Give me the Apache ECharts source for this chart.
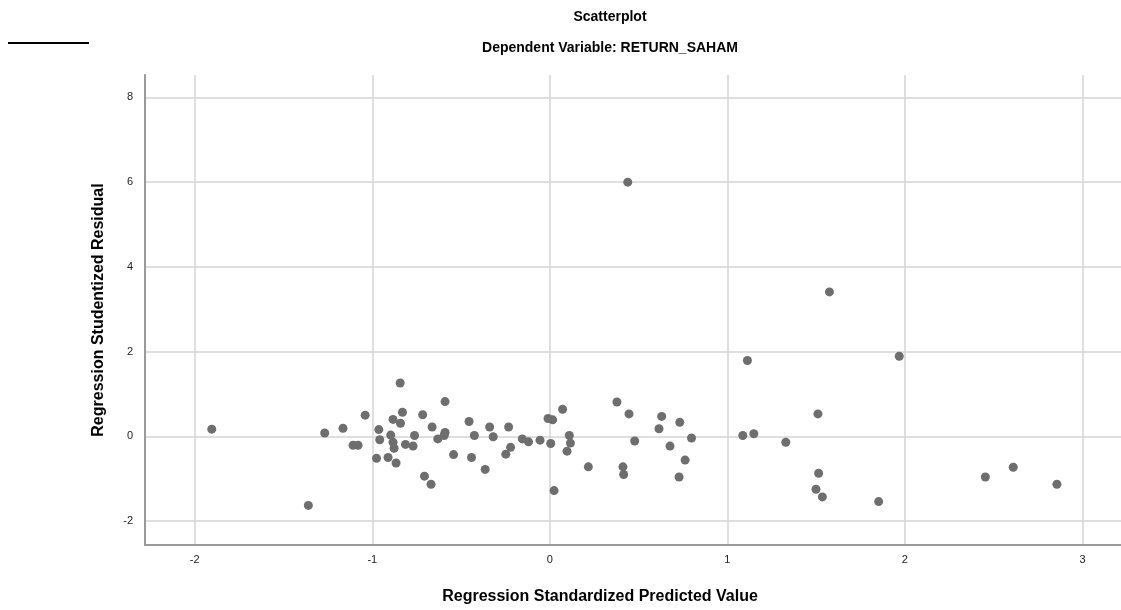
<!DOCTYPE html>
<html>
<head>
<meta charset="utf-8">
<title>Scatterplot</title>
<script src="https://cdn.jsdelivr.net/npm/echarts@6/dist/echarts.min.js"></script>
<style>
  html, body { margin: 0; padding: 0; background: #fff; }
  #chart { width: 1121px; height: 610px; }
</style>
</head>
<body>
<div id="chart"></div>
<script>
// 标准化预测值 (x) 与 学生化残差 (y)
var predicted = [
  -1.904, -1.36, -1.268, -1.165, -1.108, -1.080, -1.04, -0.976, -0.963, -0.958,
  -0.911, -0.896, -0.883, -0.883, -0.877, -0.866, -0.843, -0.830, -0.841, -0.813,
  -0.770, -0.762, -0.716, -0.706, -0.669, -0.663, -0.631, -0.595, -0.59, -0.59,
  -0.542, -0.455, -0.441, -0.425, -0.364, -0.339, -0.319, -0.248, -0.221, -0.232,
  -0.155, -0.12, -0.055, -0.01, 0.016, 0.005, 0.024, 0.072, 0.11, 0.116,
  0.097, 0.217, 0.378, 0.412, 0.416, 0.439, 0.446, 0.478, 0.615, 0.63,
  0.677, 0.728, 0.732, 0.762, 0.798, 1.087, 1.113, 1.149, 1.329, 1.51,
  1.514, 1.499, 1.535, 1.575, 1.852, 1.968, 2.453, 2.61, 2.856
];
var residual = [
  0.17, -1.63, 0.08, 0.19, -0.21, -0.21, 0.50, -0.52, 0.16, -0.08,
  -0.50, 0.03, 0.40, -0.14, -0.28, -0.63, 1.26, 0.57, 0.31, -0.19,
  -0.23, 0.02, 0.51, -0.94, -1.13, 0.22, -0.06, 0.02, 0.09, 0.82,
  -0.43, 0.35, -0.50, 0.02, -0.78, 0.22, -0.01, -0.42, -0.26, 0.22,
  -0.06, -0.13, -0.09, 0.42, 0.39, -0.17, -1.28, 0.64, 0.02, -0.16,
  -0.35, -0.72, 0.81, -0.72, -0.90, 6.0, 0.53, -0.11, 0.18, 0.47,
  -0.23, -0.96, 0.33, -0.56, -0.04, 0.02, 1.79, 0.06, -0.14, 0.53,
  -0.87, -1.25, -1.43, 3.41, -1.54, 1.89, -0.96, -0.73, -1.13
];
var xTicks = [-2, -1, 0, 1, 2, 3];
var yTicks = [-2, 0, 2, 4, 6, 8];

var points = predicted.map(function (v, i) { return [v, residual[i]]; });

var chart = echarts.init(document.getElementById('chart'));
chart.setOption({
  backgroundColor: '#ffffff',
  animation: false,
  textStyle: { fontFamily: 'Liberation Sans, Arial, sans-serif' },
  title: [
    {
      text: 'Scatterplot',
      left: 605, top: 5, textAlign: 'center',
      textStyle: { fontSize: 14, fontWeight: 'bold', color: '#000' }
    },
    {
      text: 'Dependent Variable: RETURN_SAHAM',
      left: 605, top: 36, textAlign: 'center',
      textStyle: { fontSize: 14, fontWeight: 'bold', color: '#000' }
    }
  ],
  graphic: [
    {
      type: 'line',
      shape: { x1: 8, y1: 43, x2: 89, y2: 43 },
      style: { stroke: '#000', lineWidth: 2 }
    }
  ],
  grid: { left: 145, right: 0, top: 75, bottom: 63 },
  xAxis: {
    type: 'value',
    min: -2.28, max: 3.217,
    name: 'Regression Standardized Predicted Value',
    nameLocation: 'middle',
    nameGap: 44,
    nameTextStyle: { fontSize: 16, fontWeight: 'bold', color: '#000', padding: [0, 0, 0, -66] },
    axisLine: { onZero: false, lineStyle: { color: '#9a9a9a', width: 2 } },
    axisTick: { show: false, customValues: xTicks },
    axisLabel: { customValues: xTicks, color: '#222', fontSize: 11, margin: 9 },
    splitLine: { show: true, lineStyle: { color: '#d4d4d4', width: 1.5 } }
  },
  yAxis: {
    type: 'value',
    min: -2.565, max: 8.53,
    name: 'Regression Studentized Residual',
    nameLocation: 'middle',
    nameGap: 38,
    nameTextStyle: { fontSize: 16, fontWeight: 'bold', color: '#000' },
    axisLine: { show: true, onZero: false, lineStyle: { color: '#9a9a9a', width: 2 } },
    axisTick: { show: false, customValues: yTicks },
    axisLabel: { customValues: yTicks, color: '#222', fontSize: 11, margin: 12 },
    splitLine: { show: true, lineStyle: { color: '#d4d4d4', width: 1.5 } }
  },
  series: [
    {
      type: 'scatter',
      data: points,
      symbol: 'circle',
      symbolSize: 9,
      itemStyle: { color: '#6e6e6e', opacity: 1 }
    }
  ]
});
</script>
</body>
</html>
